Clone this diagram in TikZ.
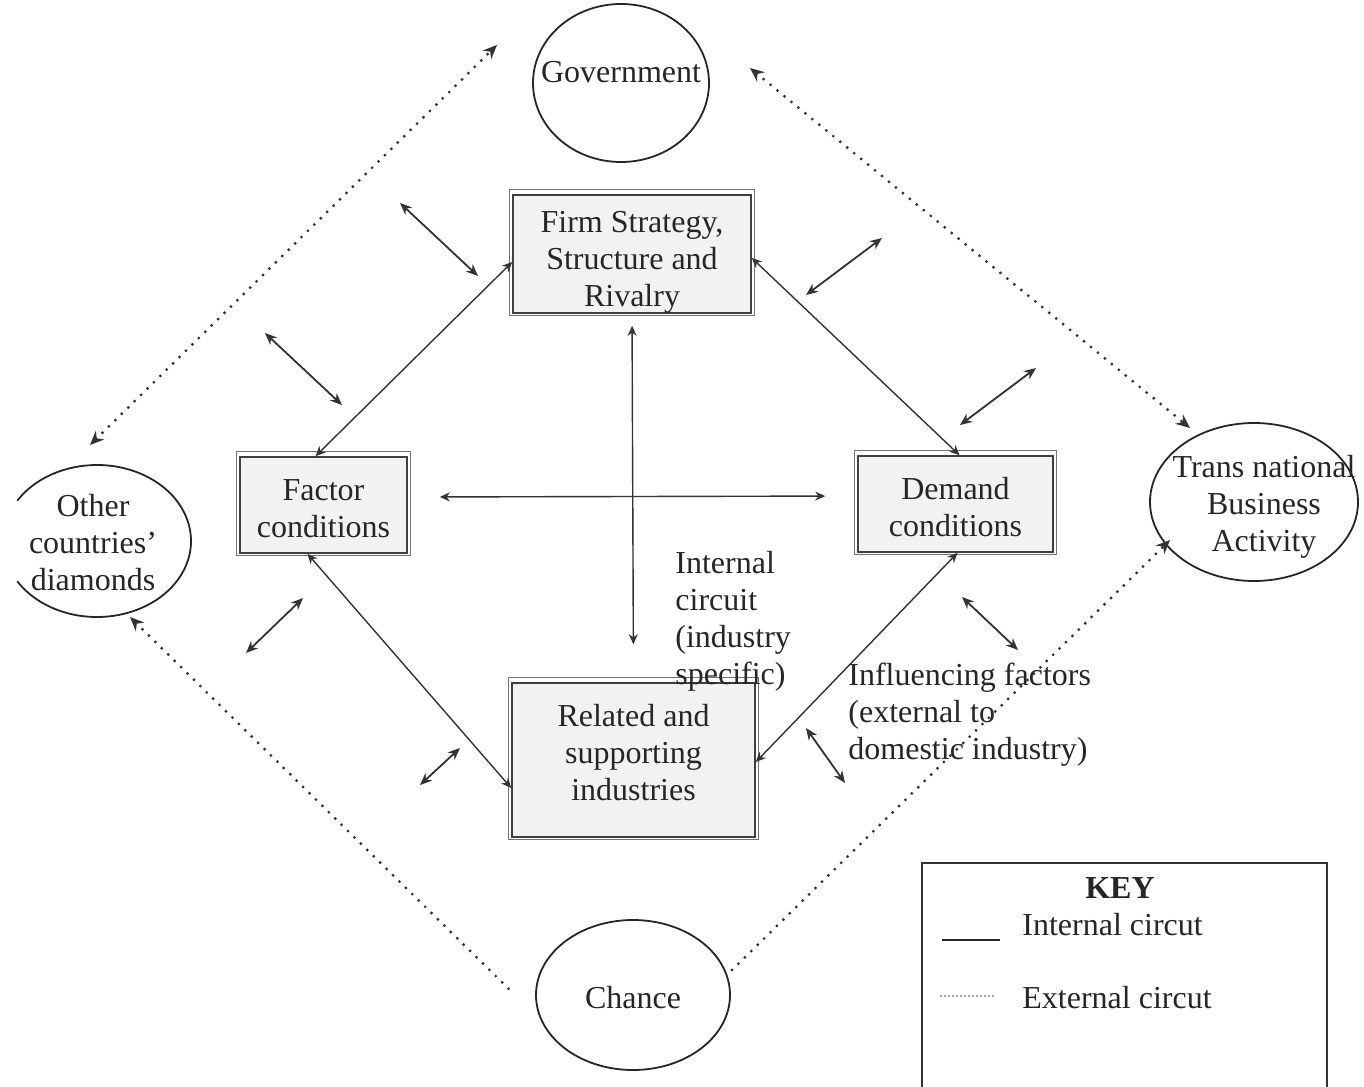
\documentclass[tikz,border=0pt]{standalone}
\usepackage{fontspec}
\setmainfont{Liberation Serif}
\usetikzlibrary{shapes.geometric,arrows.meta,calc}

\begin{document}
\begin{tikzpicture}[x=0.5pt,y=-0.5pt,
  lbl/.style={font=\fontsize{16}{18.5}\selectfont, text=black!85, inner sep=0pt, align=center},
  factorbox/.style={draw=black!75, line width=0.8pt, fill=black!5, inner sep=0pt},
  boxedge/.style={draw=black!55, line width=0.5pt},
  outside/.style={ellipse, draw=black!85, line width=0.9pt, inner sep=0pt},
  intline/.style={draw=black!80, line width=0.7pt, {Stealth[length=5pt,width=4.5pt]}-{Stealth[length=5pt,width=4.5pt]}},
  infl/.style={draw=black!80, line width=0.9pt, {Stealth[length=6pt,width=5pt]}-{Stealth[length=6pt,width=5pt]}},
  extline/.style={draw=black!80, line width=1.6pt, line cap=round, dash pattern=on 0pt off 4.5pt},
]
\useasboundingbox (0,0) rectangle (1364,1086);
\fill[white] (0,0) rectangle (1364,1086);

% outer influences
\node[outside, minimum width=88pt, minimum height=79pt] (gov) at (621,83) {};
\node[lbl] (govtext) at (621,72) {Government};
\node[outside, minimum width=104pt, minimum height=79pt] (tna) at (1254,502) {};
\node[lbl] (tnatext) at (1264,507) {Trans national\\Business\\Activity};
\node[outside, minimum width=97pt, minimum height=75pt] (chance) at (633,995) {};
\node[lbl] (chancetext) at (633,998) {Chance};
\node[ellipse, minimum width=94pt, minimum height=76pt, inner sep=0pt] (other) at (97,541) {};
\draw[draw=black!85, line width=0.9pt] ($(other.center)+(148:47pt and 38pt)$)
  arc[start angle=148, end angle=-148, x radius=47pt, y radius=38pt];
\node[lbl] (othertext) at (93,543) {Other\\countries’\\diamonds};

% the four determinants: boxes
\node[factorbox, minimum width=119pt, minimum height=59pt] (firm) at (632,254) {};
\node[factorbox, minimum width=83.5pt, minimum height=48pt] (factor) at (323.5,505) {};
\node[factorbox, minimum width=97.5pt, minimum height=48pt] (demand) at (955.5,504) {};
\node[factorbox, minimum width=121.5pt, minimum height=77pt] (related) at (633.5,760) {};
\foreach \n in {firm,factor,demand,related}
  \draw[boxedge] ([shift={(-3,-5)}]\n.north west) rectangle ([shift={(3,2)}]\n.south east);
% and their labels
\node[lbl] (firmtext) at (632,262) {Firm Strategy,\\Structure and\\Rivalry};
\node[lbl] (factortext) at (323.5,509) {Factor\\conditions};
\node[lbl] (demandtext) at (955.5,507) {Demand\\conditions};
\node[lbl] (relatedtext) at (633.5,753) {Related and\\supporting\\industries};

% internal circuit
\draw[intline] ([xshift=-4pt]factor.north) -- ([yshift=-4pt]firm.west);
\draw[intline] ([yshift=-2pt]firm.east) -- ([xshift=2pt]demand.north);
\draw[intline] ([xshift=-8pt]factor.south) -- ([yshift=-14pt]related.west);
\draw[intline] ([yshift=-1pt]related.east) -- ([xshift=1pt]demand.south);
\draw[intline, shorten <=16pt, shorten >=16pt] ([yshift=4pt]factor.east) -- ([yshift=4pt]demand.west);
\draw[intline, shorten <=6pt, shorten >=19pt] (firm.south) -- (related.north);

% influencing factors
\coordinate (s1a) at (400,203); \coordinate (s1b) at (478,276);
\coordinate (s2a) at (265,333); \coordinate (s2b) at (342,405);
\coordinate (s3a) at (806,295); \coordinate (s3b) at (882,238);
\coordinate (s4a) at (960,425); \coordinate (s4b) at (1036,368);
\coordinate (s5a) at (246,653); \coordinate (s5b) at (303,598);
\coordinate (s6a) at (420,785); \coordinate (s6b) at (460,748);
\coordinate (s7a) at (962,597); \coordinate (s7b) at (1018,650);
\coordinate (s8a) at (806,728); \coordinate (s8b) at (845,783);
\foreach \k in {1,...,8} \draw[infl] (s\k a) -- (s\k b);

% external circuit
\coordinate (e1a) at (90,445);   \coordinate (e1b) at (497,45);
\coordinate (e2a) at (750,68);   \coordinate (e2b) at (1190,428);
\coordinate (e3a) at (130,617);  \coordinate (e3b) at (515,995);
\coordinate (e4a) at (732,970);  \coordinate (e4b) at (1170,540);
\draw[extline, {Stealth[length=7pt,width=6pt]}-{Stealth[length=7pt,width=6pt]}] (e1a) -- (e1b);
\draw[extline, {Stealth[length=7pt,width=6pt]}-{Stealth[length=7pt,width=6pt]}] (e2a) -- (e2b);
\draw[extline, {Stealth[length=7pt,width=6pt]}-] (e3a) -- (e3b);
\draw[extline, -{Stealth[length=7pt,width=6pt]}] (e4a) -- (e4b);

% annotations
\node[lbl, align=left, anchor=north west] (intnote) at (675,551) {Internal\\circuit\\(industry\\specific)};
\node[lbl, align=left, anchor=north west] (inflnote) at (848,663) {Influencing factors\\(external to\\domestic industry)};

% key
\draw[draw=black!80, line width=0.8pt] (922,1090) -- (922,863) -- (1327,863) -- (1327,1090);
\node[lbl, font=\fontsize{16}{18.5}\selectfont\bfseries] (keytitle) at (1120,888) {KEY};
\node[lbl, anchor=west] (keyint) at (1022,925) {Internal circut};
\node[lbl, anchor=west] (keyext) at (1022,998) {External circut};
\coordinate (k1a) at (942,940); \coordinate (k1b) at (1000,940);
\coordinate (k2a) at (940,996); \coordinate (k2b) at (995,996);
\draw[draw=black!85, line width=0.8pt] (k1a) -- (k1b);
\draw[draw=black!35, line width=0.6pt, dash pattern=on 1pt off 1pt] (k2a) -- (k2b);
\end{tikzpicture}
\end{document}
